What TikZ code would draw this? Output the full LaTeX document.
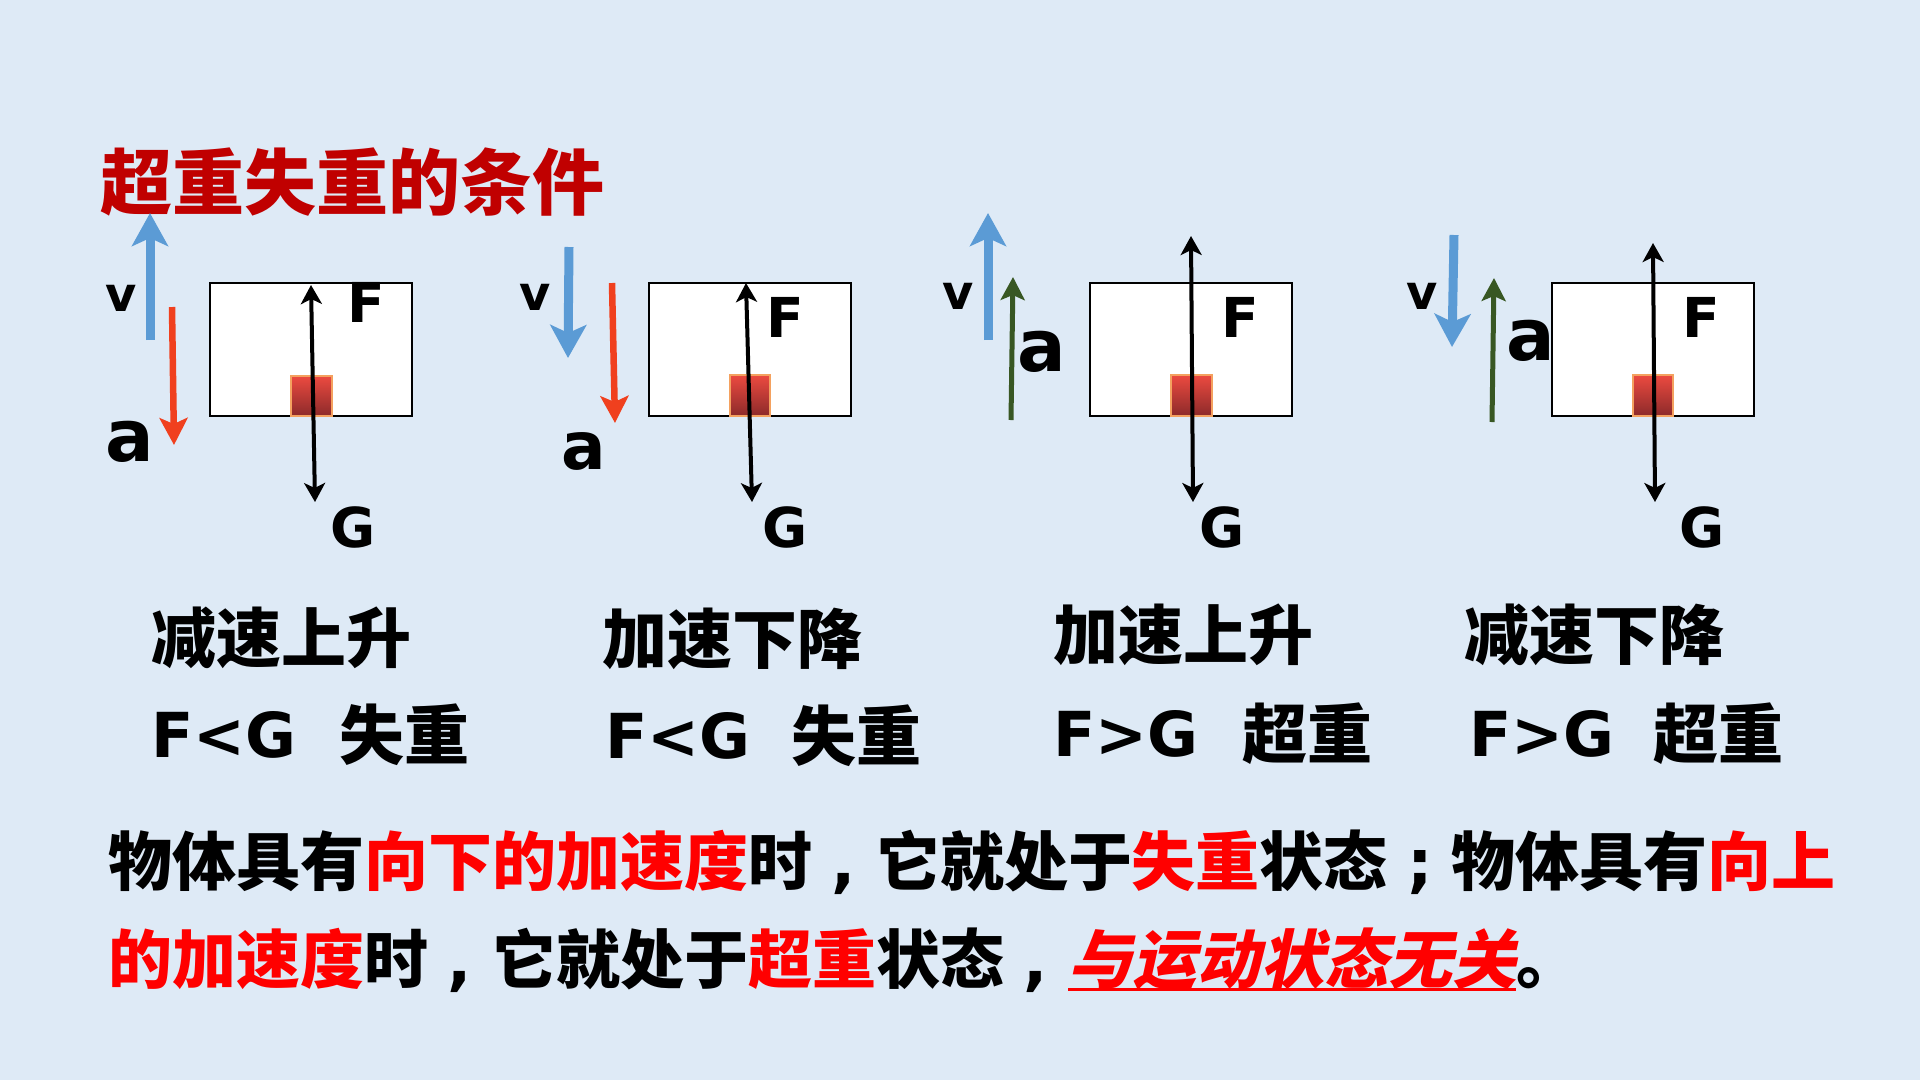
\documentclass[tikz,border=0pt]{standalone}
\usepackage{fontspec}
\setmainfont{DejaVu Sans}
\newfontfamily\cjk{Noto Sans CJK SC}
\newfontfamily\cjkit{Noto Sans CJK SC}[FakeSlant=0.22]
\usetikzlibrary{arrows.meta}
\definecolor{bg}{HTML}{DEEAF6}
\definecolor{tdark}{HTML}{C00000}
\definecolor{tred}{HTML}{FF0000}
\definecolor{vblue}{HTML}{5B9BD5}
\definecolor{ared}{HTML}{F0401E}
\definecolor{agreen}{HTML}{385723}
\definecolor{masstop}{HTML}{EC4A40}
\definecolor{massbot}{HTML}{8C2A2A}
\definecolor{massborder}{HTML}{F4A15F}
\newcommand\fwpunct[1]{\makebox[1em][c]{{\rmfamily\bfseries #1}}}
\begin{document}
\begin{tikzpicture}[x=1pt,y=-1pt,
  every node/.style={inner sep=0pt,outer sep=0pt},
  flbl/.style={font=\bfseries\fontsize{55}{60}\selectfont},
  vlbl/.style={font=\bfseries\fontsize{48}{52}\selectfont},
  albl/.style={font=\bfseries\fontsize{72}{76}\selectfont},
  rel/.style={font=\bfseries\fontsize{62}{66}\selectfont},
  cjkl/.style={font=\cjk\bfseries\fontsize{65}{70}\selectfont},
  cjkline/.style={font=\cjk\bfseries\fontsize{64}{70}\selectfont},
  box/.style={draw=black,line width=2pt,fill=white},
  mass/.style={draw=massborder,line width=1.5pt,top color=masstop,bottom color=massbot},
  varrow/.style={draw=vblue,line width=9pt,-{Stealth[length=33pt,width=36pt,inset=8pt]}},
  rarrow/.style={draw=ared,line width=6.5pt,-{Stealth[length=27pt,width=28pt,inset=6pt]}},
  garrow/.style={draw=agreen,line width=5pt,-{Stealth[length=23pt,width=24pt,inset=5pt]}},
  farrow/.style={draw=black,line width=4pt,{Stealth[length=19pt,width=21pt,inset=5pt]}-{Stealth[length=19pt,width=21pt,inset=5pt]}}
]
\fill[bg] (0,0) rectangle (1920,1080);
\useasboundingbox (0,0) rectangle (1920,1080);

% title
\node[anchor=west,font=\cjk\bfseries\fontsize{72}{80}\selectfont,text=tdark] (title) at (100,182) {超重失重的条件};

% boxes and masses
\draw[box] (210,283) rectangle (412,416);
\draw[mass] (291,376) rectangle (332,416);
\draw[box] (649,283) rectangle (851,416);
\draw[mass] (730,375) rectangle (770,416);
\draw[box] (1090,283) rectangle (1292,416);
\draw[mass] (1171,375) rectangle (1212,416);
\draw[box] (1552,283) rectangle (1754,416);
\draw[mass] (1633,375) rectangle (1673,416);

% panel 1
\draw[varrow] (150,340) -- (150,213);
\draw[rarrow] (172,307) -- (174,445);
\draw[farrow] (311,285) -- (315,502);
\node[vlbl] (v1) at (121,298) {v};
\node[albl] (a1) at (130,442) {a};
\node[flbl] (F1) at (366,302) {F};
\node[flbl] (G1) at (353,527) {G};

% panel 2
\draw[varrow] (569,247) -- (568,358);
\draw[rarrow] (612,283) -- (615,423);
\draw[farrow] (746,283) -- (752,502);
\node[vlbl] (v2) at (535,297) {v};
\node[albl,font=\bfseries\fontsize{66}{70}\selectfont] (a2) at (584,451) {a};
\node[flbl] (F2) at (785,317) {F};
\node[flbl] (G2) at (785,527) {G};

% panel 3
\draw[varrow] (988,340) -- (988,213);
\draw[garrow] (1011,420) -- (1013,277);
\draw[farrow] (1191,236) -- (1193,502);
\node[vlbl] (v3) at (958,296) {v};
\node[albl] (a3) at (1042,352) {a};
\node[flbl] (F3) at (1240,317) {F};
\node[flbl] (G3) at (1222,527) {G};

% panel 4
\draw[varrow] (1454,235) -- (1452,347);
\draw[garrow] (1492,422) -- (1494,278);
\draw[farrow] (1653,243) -- (1655,502);
\node[vlbl] (v4) at (1422,296) {v};
\node[albl] (a4) at (1531,341) {a};
\node[flbl] (F4) at (1701,317) {F};
\node[flbl] (G4) at (1702,527) {G};

% captions
\node[cjkl,anchor=west] (c1) at (151,638) {减速上升};
\node[cjkl,anchor=west] (c2) at (602,639) {加速下降};
\node[cjkl,anchor=west] (c3) at (1053,635) {加速上升};
\node[cjkl,anchor=west] (c4) at (1464,635) {减速下降};

\node[rel,anchor=west] (r1) at (151,735) {F<G};
\node[cjkl,anchor=west] (s1) at (339,735) {失重};
\node[rel,anchor=west] (r2) at (605,736) {F<G};
\node[cjkl,anchor=west] (s2) at (791,736) {失重};
\node[rel,anchor=west] (r3) at (1053,734) {F>G};
\node[cjkl,anchor=west] (s3) at (1242,734) {超重};
\node[rel,anchor=west] (r4) at (1469,734) {F>G};
\node[cjkl,anchor=west] (s4) at (1653,734) {超重};

% bottom text
\node[cjkline,anchor=west] (l1) at (108,862) {物体具有\textcolor{tred}{向下的加速度}时\fwpunct{,}它就处于\textcolor{tred}{失重}状态\fwpunct{;}物体具有\textcolor{tred}{向上}};
\node[cjkline,anchor=west] (l2a) at (108,960) {\textcolor{tred}{的加速度}时\fwpunct{,}它就处于\textcolor{tred}{超重}状态\fwpunct{,}};
\node[font=\cjkit\bfseries\fontsize{64}{70}\selectfont,text=tred,anchor=base west] (l2b) at (l2a.base east) {与运动状态无关};
\node[cjkline,anchor=base west] (l2c) at (l2b.base east) {。};
\draw[tred,line width=3pt] ([yshift=-6pt]l2b.base west) -- ([yshift=-6pt]l2b.base east);
\end{tikzpicture}
\end{document}
